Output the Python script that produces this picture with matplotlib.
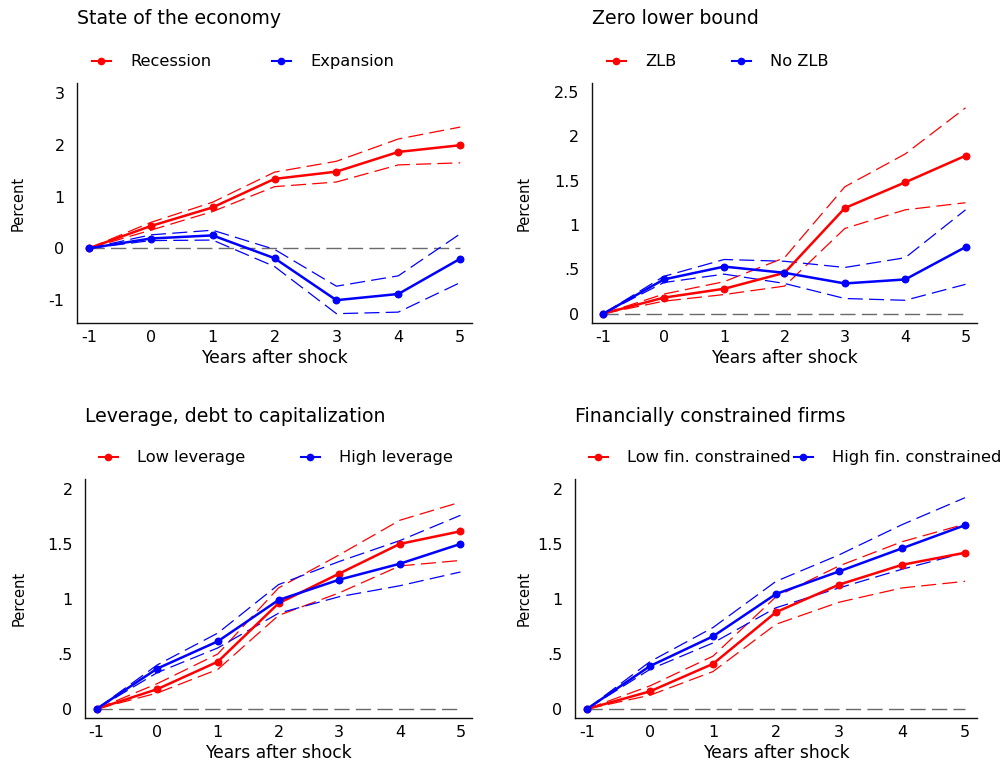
#! /usr/bin/env python
# four-panel impulse responses: state-dependent effects, with 90% bands

import numpy as np
import matplotlib
matplotlib.use('agg')
import matplotlib.pyplot as plt
from matplotlib.lines import Line2D
from matplotlib.legend import Legend

plt.rc('font', family='DejaVu Sans')

years = [-1, 0, 1, 2, 3, 4, 5]

# state of the economy
rec_mean = [0, 0.43, 0.79, 1.34, 1.48, 1.86, 1.99]
rec_hi = [0, 0.50, 0.89, 1.47, 1.68, 2.11, 2.34]
rec_lo = [0, 0.35, 0.71, 1.19, 1.28, 1.61, 1.65]
exp_mean = [0, 0.19, 0.25, -0.19, -1.00, -0.88, -0.20]
exp_hi = [0, 0.26, 0.35, -0.02, -0.73, -0.53, 0.28]
exp_lo = [0, 0.15, 0.16, -0.35, -1.26, -1.23, -0.66]

# zero lower bound
zlb_mean = [0, 0.18, 0.28, 0.46, 1.19, 1.48, 1.78]
zlb_hi = [0, 0.22, 0.36, 0.63, 1.43, 1.80, 2.32]
zlb_lo = [0, 0.14, 0.215, 0.31, 0.96, 1.17, 1.25]
nozlb_mean = [0, 0.385, 0.53, 0.46, 0.34, 0.385, 0.75]
nozlb_hi = [0, 0.42, 0.61, 0.59, 0.52, 0.63, 1.17]
nozlb_lo = [0, 0.35, 0.445, 0.34, 0.17, 0.15, 0.33]

# leverage
lowlev_mean = [0, 0.18, 0.43, 0.96, 1.23, 1.50, 1.615]
lowlev_hi = [0, 0.23, 0.50, 1.10, 1.40, 1.715, 1.88]
lowlev_lo = [0, 0.145, 0.36, 0.85, 1.055, 1.30, 1.35]
highlev_mean = [0, 0.367, 0.615, 0.99, 1.175, 1.32, 1.50]
highlev_hi = [0, 0.40, 0.69, 1.13, 1.34, 1.53, 1.76]
highlev_lo = [0, 0.33, 0.555, 0.87, 1.02, 1.12, 1.245]

# financial constraints
lowfin_mean = [0, 0.16, 0.41, 0.88, 1.13, 1.31, 1.42]
lowfin_hi = [0, 0.21, 0.48, 1.02, 1.30, 1.52, 1.68]
lowfin_lo = [0, 0.125, 0.34, 0.77, 0.97, 1.10, 1.16]
highfin_mean = [0, 0.39, 0.66, 1.045, 1.25, 1.46, 1.67]
highfin_hi = [0, 0.43, 0.74, 1.16, 1.40, 1.675, 1.92]
highfin_lo = [0, 0.36, 0.60, 0.92, 1.10, 1.27, 1.42]

titles = ['State of the economy', 'Zero lower bound',
          'Leverage, debt to capitalization', 'Financially constrained firms']
labels = [('Recession', 'Expansion'), ('ZLB', 'No ZLB'),
          ('Low leverage', 'High leverage'),
          ('Low fin. constrained', 'High fin. constrained')]
yticks = [[-1, 0, 1, 2, 3],
          [0, 0.5, 1, 1.5, 2, 2.5],
          [0, 0.5, 1, 1.5, 2],
          [0, 0.5, 1, 1.5, 2]]
yticklabels = [['-1', '0', '1', '2', '3'],
               ['0', '.5', '1', '1.5', '2', '2.5'],
               ['0', '.5', '1', '1.5', '2'],
               ['0', '.5', '1', '1.5', '2']]

series = [
    ((rec_mean, rec_hi, rec_lo), (exp_mean, exp_hi, exp_lo)),
    ((zlb_mean, zlb_hi, zlb_lo), (nozlb_mean, nozlb_hi, nozlb_lo)),
    ((lowlev_mean, lowlev_hi, lowlev_lo), (highlev_mean, highlev_hi, highlev_lo)),
    ((lowfin_mean, lowfin_hi, lowfin_lo), (highfin_mean, highfin_hi, highfin_lo)),
]

# layout, in pixels of the 1001x766 canvas / axes fractions
W, H = 1001., 766.
boxes = [(77, 83, 472, 323), (592, 83, 977, 323),
         (85, 479, 472, 718), (575, 479, 977, 718)]
ylims = [(-1.44, 3.19), (-0.106, 2.60), (-0.082, 2.09), (-0.082, 2.09)]
leg_x = [(0.038, 0.494), (0.039, 0.364), (0.036, 0.558), (0.035, 0.545)]
ylab_x = [-0.129, -0.156, -0.152, -0.107]
title_off = [46.5, 46.5, 45, 45]
colors = ['#ff0000', '#0000ff']

fig = plt.figure(figsize=(W / 100, H / 100), dpi=100)

for i in range(4):
    l, t, r, b = boxes[i]
    ax = fig.add_axes([l / W, 1 - b / H, (r - l) / W, (b - t) / H])

    ax.plot(years, np.zeros(len(years)), color='#6a6a6a', lw=1.0,
            dashes=(11, 4.5), zorder=1)
    handles = []
    for (mean, hi, lo), c in zip(series[i], colors):
        for band in (hi, lo):
            ax.plot(years, band, color=c, lw=0.9, dashes=(12, 5), zorder=2)
        ax.plot(years, mean, color=c, lw=1.8, marker='o', markersize=4.7,
                zorder=3)
        handles.append(Line2D([], [], color=c, lw=1.5, marker='o',
                              markersize=4.5))

    ax.set_xlim(-1.19, 5.19)
    ax.set_ylim(*ylims[i])
    ax.set_xticks(years)
    ax.set_xticklabels([str(y) for y in years])
    ax.set_yticks(yticks[i])
    ax.set_yticklabels(yticklabels[i])
    ax.tick_params(length=0, labelsize=11.5)
    ax.tick_params(axis='x', pad=5)
    ax.tick_params(axis='y', pad=9)
    for s in ['top', 'right']:
        ax.spines[s].set_visible(False)
    for s in ['left', 'bottom']:
        ax.spines[s].set_color('#111111')
        ax.spines[s].set_linewidth(1.0)

    ax.set_xlabel('Years after shock', fontsize=12.3, labelpad=3)
    ax.set_ylabel('Percent', fontsize=10.5)
    ax.yaxis.set_label_coords(ylab_x[i], 0.5)

    ax.annotate(titles[i], xy=(0, 1), xycoords='axes fraction',
                xytext=(0, title_off[i]), textcoords='offset points',
                ha='left', va='center', fontsize=13.6)

    # one legend per entry, so each key can sit where the reference has it
    for k in range(2):
        leg = Legend(ax, [handles[k]], [labels[i][k]], loc='center left',
                     bbox_to_anchor=(leg_x[i][k], 1.088), frameon=False,
                     borderpad=0, borderaxespad=0, handlelength=1.15,
                     handletextpad=1.2, fontsize=11.7)
        ax.add_artist(leg)

fig.savefig('out.png', dpi=100)
